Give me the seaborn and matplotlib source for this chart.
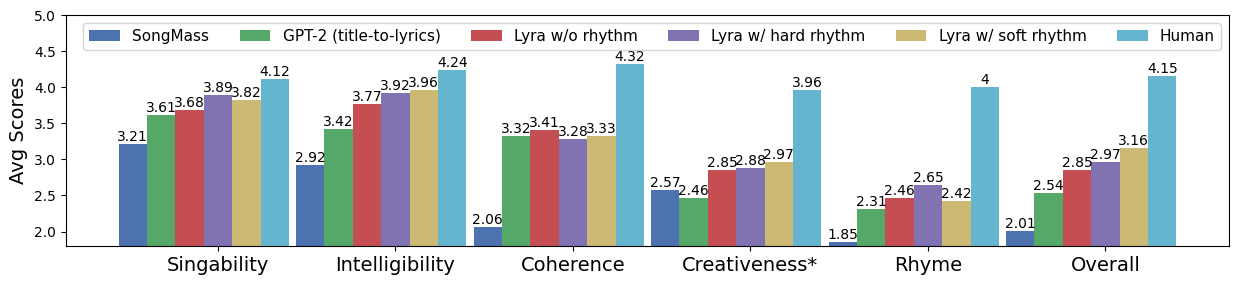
import matplotlib
matplotlib.use("Agg")
import matplotlib.pyplot as plt
import seaborn as sns
import pandas as pd
import numpy as np

categories = ["Singability", "Intelligibility", "Coherence", "Creativeness*", "Rhyme", "Overall"]
models = ["SongMass", "GPT-2 (title-to-lyrics)", "Lyra w/o rhythm",
          "Lyra w/ hard rhythm", "Lyra w/ soft rhythm", "Human"]

songmass = [3.21, 2.92, 2.06, 2.57, 1.85, 2.01]
gpt2 = [3.61, 3.42, 3.32, 2.46, 2.31, 2.54]
lyra_no = [3.68, 3.77, 3.41, 2.85, 2.46, 2.85]
lyra_hard = [3.89, 3.92, 3.28, 2.88, 2.65, 2.97]
lyra_soft = [3.82, 3.96, 3.33, 2.97, 2.42, 3.16]
human = [4.12, 4.24, 4.32, 3.96, 4, 4.15]

colors = ["#4C72B0", "#55A868", "#C44E52", "#8172B2", "#CCB974", "#64B5CD"]

scores = [songmass, gpt2, lyra_no, lyra_hard, lyra_soft, human]
rows = []
for m, vals in zip(models, scores):
    for c, v in zip(categories, vals):
        rows.append({"Aspect": c, "Model": m, "Score": v})
df = pd.DataFrame(rows)

fig, ax = plt.subplots(figsize=(12.38, 2.85), dpi=100)
fig.subplots_adjust(left=0.053, right=0.993, top=0.947, bottom=0.137)

sns.barplot(data=df, x="Aspect", y="Score", hue="Model", palette=colors,
            width=0.96, saturation=1, linewidth=0, ax=ax)

for cont in ax.containers:
    ax.bar_label(cont, fontsize=10)

ax.set_ylim(1.8, 5.0)
ax.set_yticks(np.arange(2.0, 5.01, 0.5))
ax.set_xticks(np.arange(len(categories)) + 0.08)
ax.set_xticklabels(categories, fontsize=14)
ax.set_xlim(-0.778, 5.778)
ax.set_xlabel("")
ax.set_ylabel("Avg Scores", fontsize=14)
ax.tick_params(axis="y", labelsize=10)

ax.legend(ncol=6, loc="upper center", bbox_to_anchor=(0.504, 1.0), fontsize=11)

fig.savefig("out.png", dpi=100)
